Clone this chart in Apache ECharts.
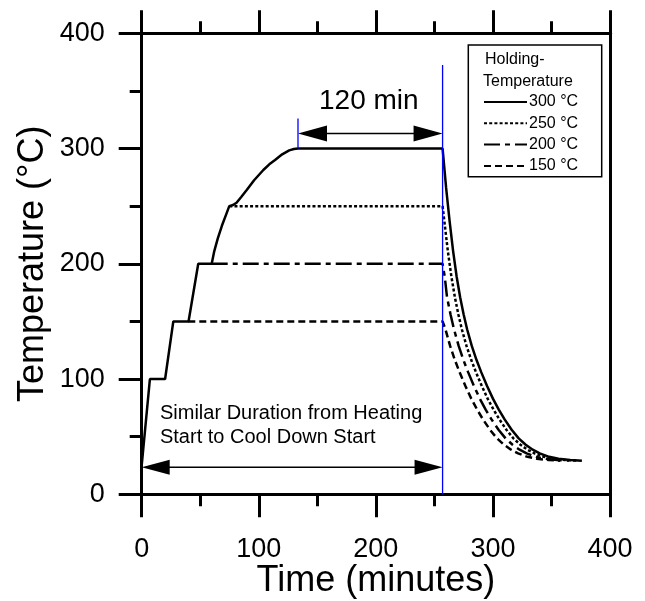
<!DOCTYPE html>
<html><head><meta charset="utf-8">
<script src="https://cdn.jsdelivr.net/npm/echarts@6/dist/echarts.min.js"></script>
<style>html,body{margin:0;padding:0;background:#fff}#c{width:645px;height:601px}</style>
</head><body><div id="c"></div>
<script>
// ---------- data ----------
const xTicks = [0, 100, 200, 300, 400];
const yTicks = [0, 100, 200, 300, 400];
const seriesNames = ['300 \u00B0C', '250 \u00B0C', '200 \u00B0C', '150 \u00B0C'];

const time300 = [0, 7, 20, 27, 40, 48.3, 59.8, 62, 65, 68.5, 72, 74.8, 78, 81, 85, 89.7, 96, 103.9, 109, 113.9, 120, 126, 130, 133.5, 257,
  260, 263, 266, 269, 272, 275, 278, 282, 286, 290, 295, 300, 305, 310, 316, 322, 328, 334, 340, 348, 356, 366, 376];
const temp300 = [25, 100, 100, 150, 150, 200, 200, 211, 222, 233, 242.5, 250, 251, 253, 258, 264, 272.5, 281.4, 286.3, 290, 295, 298.4, 299.6, 300, 300,
  266, 237, 211, 189, 171, 156, 143, 128.5, 116.5, 106, 94, 83, 73.5, 65, 56, 48.5, 43, 38.7, 35.5, 32.5, 30.8, 29.8, 29.2];

const time250 = [74.8, 257, 258.5, 261.5, 264.5, 267.5, 270.5, 273.5, 277.5, 281.5, 285.5, 290.5, 295.5, 300.5, 305.5, 311.5, 317.5, 323.5, 329.5, 335.5, 343.5, 351.5, 361.5, 371.5];
const temp250 = [250, 250, 237, 211, 189, 171, 156, 143, 128.5, 116.5, 106, 94, 83, 73.5, 65, 56, 48.5, 43, 38.7, 35.5, 32.5, 30.8, 29.8, 29.2];

const time200 = [59.8, 257, 258.8, 260.8, 263.8, 266.8, 270.8, 274.8, 278.8, 283.8, 288.8, 293.8, 298.8, 304.8, 310.8, 316.8, 322.8, 328.8, 336.8, 344.8, 354.8, 364.8];
const temp200 = [200, 200, 189, 171, 156, 143, 128.5, 116.5, 106, 94, 83, 73.5, 65, 56, 48.5, 43, 38.7, 35.5, 32.5, 30.8, 29.8, 29.2];

const time150 = [39.8, 257, 259.5, 263.5, 267.5, 271.5, 276.5, 281.5, 286.5, 291.5, 297.5, 303.5, 309.5, 315.5, 321.5, 329.5, 337.5, 347.5, 357.5];
const temp150 = [150, 150, 143, 128.5, 116.5, 106, 94, 83, 73.5, 65, 56, 48.5, 43, 38.7, 35.5, 32.5, 30.8, 29.8, 29.2];

// annotation values (data units)
const holdStart = 133.5;
const coolStart = 257;
const arrowTopTemp = 313;
const arrowBottomTemp = 23.4;
const blueLongTop = 372.5;
const blueShortTop = 326;
const blueShortBottom = 300;
const label120 = ['120 min', 194, 340.6];
const labelSimilar = ['Similar Duration from Heating\nStart to Cool Down Start', 15.6, 60];

// ---------- chart ----------
const FONT = 'Liberation Sans, Arial, sans-serif';
const zip = (a, b) => a.map((v, i) => [v, b[i]]);
const chart = echarts.init(document.getElementById('c'), null, {renderer: 'canvas'});

const tickStyle = {color: '#000', width: 3};
function xAx(pos, labels) {
  return {
    type: 'value', position: pos, min: xTicks[0], max: xTicks[xTicks.length - 1], interval: 100,
    axisLine: {show: true, onZero: false, lineStyle: {color: '#000', width: 3}},
    axisTick: {show: true, inside: false, length: 23, lineStyle: tickStyle},
    minorTick: {show: true, splitNumber: 2, length: 12, lineStyle: tickStyle},
    splitLine: {show: false}, minorSplitLine: {show: false},
    axisLabel: {show: labels, fontSize: 27, color: '#000', fontFamily: FONT, margin: 42},
    name: labels ? 'Time (minutes)' : '', nameLocation: 'middle', nameGap: 69, nameMoveOverlap: false,
    nameTextStyle: {fontSize: 36, color: '#000', fontFamily: FONT}
  };
}
function yAx(pos, ticks) {
  return {
    type: 'value', position: pos, min: yTicks[0], max: yTicks[yTicks.length - 1], interval: 100,
    axisLine: {show: true, onZero: false, lineStyle: {color: '#000', width: 3}},
    axisTick: {show: ticks, inside: false, length: 23, lineStyle: tickStyle},
    minorTick: {show: ticks, splitNumber: 2, length: 12, lineStyle: tickStyle},
    splitLine: {show: false}, minorSplitLine: {show: false},
    axisLabel: {show: ticks, fontSize: 27, color: '#000', fontFamily: FONT, margin: 37},
    name: ticks ? 'Temperature (\u00B0C)' : '', nameLocation: 'middle', nameGap: 91, nameMoveOverlap: false,
    nameTextStyle: {fontSize: 36, color: '#000', fontFamily: FONT}
  };
}

const styles = [
  {type: 'solid'},
  {type: [3, 2.2]},
  {type: [16, 5, 5, 5]},
  {type: [7, 4]}
];
const dataSets = [zip(time300, temp300), zip(time250, temp250), zip(time200, temp200), zip(time150, temp150)];

chart.setOption({
  animation: false,
  backgroundColor: '#fff',
  grid: {left: 141.7, right: 35, top: 33.3, bottom: 106.7, outerBoundsMode: 'none', containLabel: false},
  xAxis: [xAx('bottom', true), xAx('top', false)],
  yAxis: [yAx('left', true), yAx('right', false)],
  legend: {
    show: true, orient: 'vertical', left: 483, top: 94, padding: 0,
    itemWidth: 43, itemHeight: 14, itemGap: 5.3,
    itemStyle: {opacity: 0, borderWidth: 0},
    textStyle: {fontSize: 16, color: '#000', fontFamily: FONT, padding: [0, 0, 0, -3]},
    data: seriesNames
  },
  series: seriesNames.map((n, i) => ({
    name: n, type: 'line', xAxisIndex: 0, yAxisIndex: 0,
    data: dataSets[i], showSymbol: false, symbol: 'none', silent: true,
    lineStyle: Object.assign({color: '#000', width: 2.5}, styles[i]),
    itemStyle: {color: '#000'}, z: 3 + i
  }))
});

function px(x, y) { return chart.convertToPixel({xAxisIndex: 0, yAxisIndex: 0}, [x, y]); }
function dblArrow(xa, xb, y, len, half) {
  const a = px(xa, y), b = px(xb, y);
  return [
    {type: 'line', shape: {x1: a[0] + len - 2, y1: a[1], x2: b[0] - len + 2, y2: b[1]}, style: {stroke: '#000', lineWidth: 1.5}, z: 10},
    {type: 'polygon', shape: {points: [[a[0], a[1]], [a[0] + len, a[1] - half], [a[0] + len, a[1] + half]]}, style: {fill: '#000'}, z: 10},
    {type: 'polygon', shape: {points: [[b[0], b[1]], [b[0] - len, b[1] - half], [b[0] - len, b[1] + half]]}, style: {fill: '#000'}, z: 10}
  ];
}
const bl1 = [px(coolStart, blueLongTop), px(coolStart, 0)];
const bs1 = [px(holdStart, blueShortTop), px(holdStart, blueShortBottom)];
const t120 = px(label120[1], label120[2]);
const tSim = px(labelSimilar[1], labelSimilar[2]);

const g = [
  {type: 'line', shape: {x1: bl1[0][0], y1: bl1[0][1], x2: bl1[1][0], y2: bl1[1][1]}, style: {stroke: '#0000ff', lineWidth: 1.3}, z: 11},
  {type: 'line', shape: {x1: bs1[0][0], y1: bs1[0][1], x2: bs1[1][0], y2: bs1[1][1]}, style: {stroke: '#0000ff', lineWidth: 1.3}, z: 11},
  ...dblArrow(holdStart, coolStart, arrowTopTemp, 29, 8),
  ...dblArrow(0, coolStart, arrowBottomTemp, 28, 7.5),
  {type: 'text', x: t120[0], y: t120[1], style: {text: label120[0], fontSize: 28, fontFamily: FONT, fill: '#000', align: 'center', verticalAlign: 'middle'}, z: 12},
  {type: 'text', x: tSim[0], y: tSim[1], style: {text: labelSimilar[0], fontSize: 20, lineHeight: 24, fontFamily: FONT, fill: '#000', align: 'left', verticalAlign: 'middle'}, z: 12},
  // legend frame and title
  {type: 'rect', shape: {x: 468.3, y: 45, width: 133.4, height: 131.7}, style: {fill: '#fff', stroke: '#000', lineWidth: 1.5}, z: 1},
  {type: 'text', x: 485, y: 60, style: {text: 'Holding-', fontSize: 16, fontFamily: FONT, fill: '#000', verticalAlign: 'middle'}, z: 12},
  {type: 'text', x: 483, y: 81.7, style: {text: 'Temperature', fontSize: 16, fontFamily: FONT, fill: '#000', verticalAlign: 'middle'}, z: 12}
];
chart.setOption({graphic: {elements: g}});
</script>
</body></html>
